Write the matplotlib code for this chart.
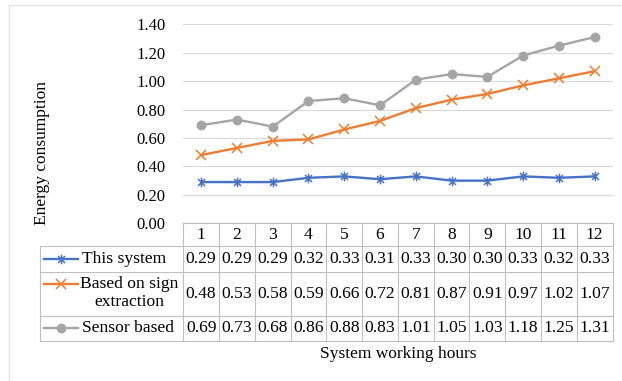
import matplotlib
matplotlib.use("Agg")
import matplotlib.pyplot as plt
import matplotlib.transforms as mtransforms
from matplotlib.lines import Line2D
from matplotlib.path import Path

plt.rcParams['font.family'] = ['Liberation Serif', 'DejaVu Serif']

# Data
hours = [1, 2, 3, 4, 5, 6, 7, 8, 9, 10, 11, 12]
this_system = [0.29, 0.29, 0.29, 0.32, 0.33, 0.31, 0.33, 0.30, 0.30, 0.33, 0.32, 0.33]
sign_extraction = [0.48, 0.53, 0.58, 0.59, 0.66, 0.72, 0.81, 0.87, 0.91, 0.97, 1.02, 1.07]
sensor_based = [0.69, 0.73, 0.68, 0.86, 0.88, 0.83, 1.01, 1.05, 1.03, 1.18, 1.25, 1.31]
series_names = ["This system", "Based on sign\nextraction", "Sensor based"]
y_ticks = [0.0, 0.2, 0.4, 0.6, 0.8, 1.0, 1.2, 1.4]

W, H = 622, 381
fig = plt.figure(figsize=(W / 100, H / 100), dpi=100)


def fx(px):
    return px / W


def fy(py):
    return 1 - py / H


# star marker: an "x" crossed by a vertical bar
star = Path([(0, -1), (0, 1), (-0.72, -0.72), (0.72, 0.72), (-0.72, 0.72), (0.72, -0.72)],
            [Path.MOVETO, Path.LINETO, Path.MOVETO, Path.LINETO, Path.MOVETO, Path.LINETO])

colors = ["#4472C4", "#ED7D31", "#A5A5A5"]
markers = [star, "x", "o"]
msizes = [7, 6.5, 6]
series = [this_system, sign_extraction, sensor_based]

x_left, x_right = 183.3, 612.5
y_top, y_zero = 24.3, 223.3
ax = fig.add_axes([fx(x_left), fy(y_zero), fx(x_right) - fx(x_left), fy(y_top) - fy(y_zero)])
ax.set_xlim(0.5, 12.5)
ax.set_ylim(0, 1.4)
ax.set_yticks(y_ticks)
ax.set_yticklabels([f"{v:.2f}" for v in y_ticks], fontsize=12)
ax.tick_params(axis='y', length=0, pad=13)
ax.set_xticks([])
for s in ax.spines.values():
    s.set_visible(False)
ax.grid(axis='y', color="#d9d9d9", lw=0.9)
ax.set_axisbelow(True)

for vals, c, m, ms in zip(series, colors, markers, msizes):
    ax.plot(hours, vals, color=c, lw=1.7, marker=m, ms=ms, mec=c, mfc=c, mew=1.1,
            clip_on=False, zorder=3)

# Data table underneath the plot
trans = mtransforms.blended_transform_factory(ax.transData, fig.transFigure)
tcol = "#bfbfbf"
tlw = 0.8
tab_left = 39.5
row_lines = [223.3, 246.0, 272.0, 316.0, 340.5]
edges = [0.5 + i for i in range(len(hours) + 1)]

# horizontal rules
fig.add_artist(Line2D([0.5, 12.5], [fy(row_lines[0])] * 2, transform=trans, color=tcol, lw=tlw))
for yl in row_lines[1:]:
    fig.add_artist(Line2D([fx(tab_left), fx(x_right)], [fy(yl)] * 2,
                          transform=fig.transFigure, color=tcol, lw=tlw))
# vertical rules
for e in edges:
    fig.add_artist(Line2D([e, e], [fy(row_lines[0]), fy(row_lines[-1])],
                          transform=trans, color=tcol, lw=tlw))
fig.add_artist(Line2D([fx(tab_left)] * 2, [fy(row_lines[1]), fy(row_lines[-1])],
                      transform=fig.transFigure, color=tcol, lw=tlw))

tfs = 12.6
row_centers = [(row_lines[i] + row_lines[i + 1]) / 2 for i in range(4)]
for h in hours:
    fig.text(h, fy(row_centers[0]), str(h), transform=trans, ha='center', va='center', fontsize=tfs)
for r, vals in enumerate(series):
    for h, v in zip(hours, vals):
        fig.text(h, fy(row_centers[r + 1]), f"{v:.2f}", transform=trans,
                 ha='center', va='center', fontsize=tfs)

# legend keys and series names
key_y = [row_centers[1], 283.5, row_centers[3]]
for name, c, m, ms, ky in zip(series_names, colors, markers, msizes, key_y):
    fig.add_artist(Line2D([fx(44), fx(78)], [fy(ky)] * 2, transform=fig.transFigure,
                          color=c, lw=1.7))
    fig.add_artist(Line2D([fx(61)], [fy(ky)], transform=fig.transFigure, color=c,
                          marker=m, ms=ms, mec=c, mfc=c, mew=1.1, lw=0))
    if "\n" in name:
        first, second = name.split("\n")
        fig.text(fx(129.5), fy(283.5), first, ha='center', va='center', fontsize=tfs)
        fig.text(fx(129.5), fy(302.5), second, ha='center', va='center', fontsize=tfs)
    else:
        fig.text(fx(81.5), fy(ky), name, ha='left', va='center', fontsize=tfs)

# axis titles
fig.text(fx(398), fy(354), "System working hours", ha='center', va='center', fontsize=12.5)
fig.text(fx(42), fy(153), "Energy consumption", ha='center', va='center', rotation=90, fontsize=12.5)

# chart frame
fig.add_artist(Line2D([fx(9.3), 1.0], [fy(5.3)] * 2, transform=fig.transFigure, color="#e3e3e3", lw=1.0))
fig.add_artist(Line2D([fx(9.3)] * 2, [fy(5.3), 0.0], transform=fig.transFigure, color="#e3e3e3", lw=1.0))

fig.savefig("out.png", dpi=100)
